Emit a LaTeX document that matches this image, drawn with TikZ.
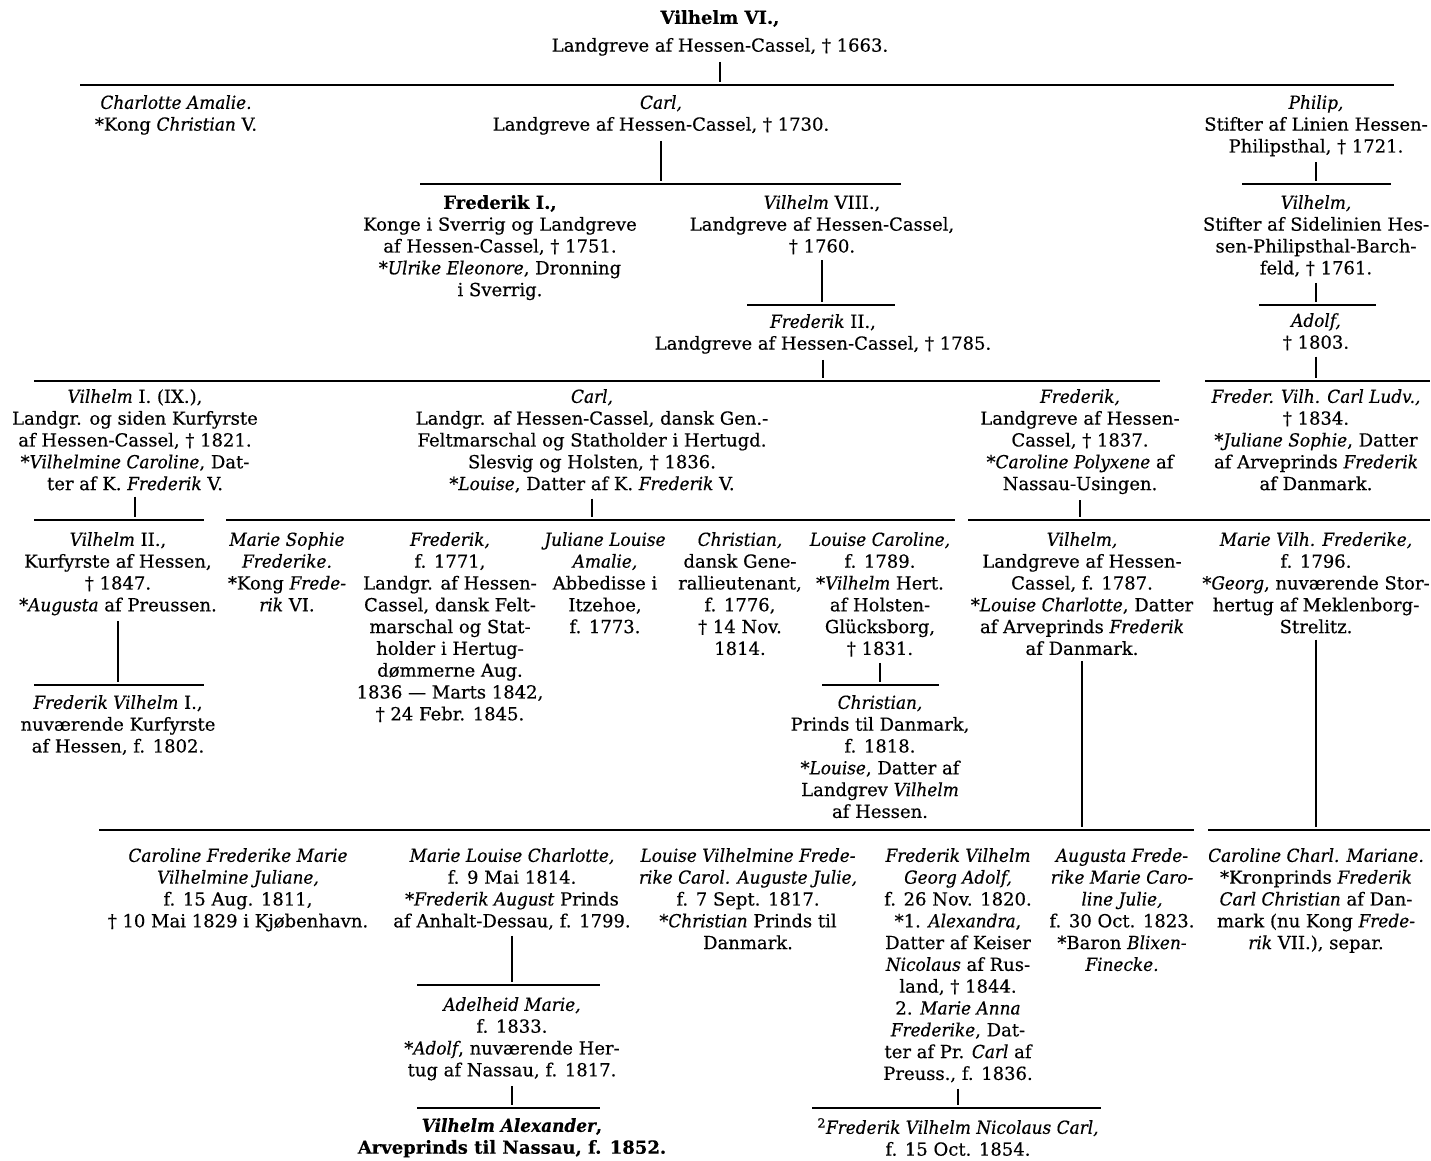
\documentclass[tikz,border=0pt]{standalone}
\usepackage{fontspec}
\setmainfont{DejaVu Serif}[FakeBold=0.4,
  ItalicFeatures={FakeStretch=0.94},BoldItalicFeatures={FakeStretch=0.94}]
\usepackage{tikz}

\begin{document}
\begin{tikzpicture}[x=1pt,y=-1pt,
  person/.style={align=center,anchor=north,inner sep=0pt,
    font={\fontsize{18}{21.8}\selectfont}},
  bar/.style={line width=1.4pt},
  stem/.style={line width=1.1pt,shorten <=6pt,shorten >=3pt}]

    \fill[white] (0,0) rectangle (1431,1160);
    \useasboundingbox (0,0) rectangle (1431,1160);

    \node[person] (vilhelmVI) at (720,10) {\textbf{Vilhelm VI.,}\\[6pt]Landgreve af Hessen-Cassel, † 1663.};

    \node[person] (charlotte) at (176,95) {\textit{Charlotte Amalie.}\\{}*Kong \textit{Christian} V.};
    \node[person] (carl) at (661,95) {\textit{Carl,}\\Landgreve af Hessen-Cassel, † 1730.};
    \node[person] (philip) at (1316,95) {\textit{Philip,}\\Stifter af Linien Hessen-\\Philipsthal, † 1721.};

    \node[person] (frederikI) at (500,195) {\textbf{Frederik I.,}\\Konge i Sverrig og Landgreve\\af Hessen-Cassel, † 1751.\\{}*\textit{Ulrike Eleonore}, Dronning\\i Sverrig.};
    \node[person] (vilhelmVIII) at (822,195) {\textit{Vilhelm} VIII.,\\Landgreve af Hessen-Cassel,\\† 1760.};
    \node[person] (vilhelmP) at (1316,195) {\textit{Vilhelm,}\\Stifter af Sidelinien Hes-\\sen-Philipsthal-Barch-\\feld, † 1761.};

    \node[person] (frederikII) at (823,314) {\textit{Frederik} II.,\\Landgreve af Hessen-Cassel, † 1785.};
    \node[person] (adolfP) at (1316,313) {\textit{Adolf,}\\† 1803.};

    \node[person] (vilhelmI) at (135,389) {\textit{Vilhelm} I. (IX.),\\Landgr. og siden Kurfyrste\\af Hessen-Cassel, † 1821.\\{}*\textit{Vilhelmine Caroline}, Dat-\\ter af K. \textit{Frederik} V.};
    \node[person] (carlS) at (592,389) {\textit{Carl,}\\Landgr. af Hessen-Cassel, dansk Gen.-\\Feltmarschal og Statholder i Hertugd.\\Slesvig og Holsten, † 1836.\\{}*\textit{Louise}, Datter af K. \textit{Frederik} V.};
    \node[person] (frederikL) at (1080,389) {\textit{Frederik,}\\Landgreve af Hessen-\\Cassel, † 1837.\\{}*\textit{Caroline Polyxene} af\\Nassau-Usingen.};
    \node[person] (frederVilh) at (1316,389) {\textit{Freder. Vilh. Carl Ludv.,}\\† 1834.\\{}*\textit{Juliane Sophie}, Datter\\af Arveprinds \textit{Frederik}\\af Danmark.};

    \node[person] (vilhelmII) at (118,532) {\textit{Vilhelm} II.,\\Kurfyrste af Hessen,\\† 1847.\\{}*\textit{Augusta} af Preussen.};
    \node[person] (marieSophie) at (287,532) {\textit{Marie Sophie}\\\textit{Frederike.}\\{}*Kong \textit{Frede-}\\\textit{rik} VI.};
    \node[person] (frederikF) at (450,532) {\textit{Frederik,}\\f. 1771,\\Landgr. af Hessen-\\Cassel, dansk Felt-\\marschal og Stat-\\holder i Hertug-\\dømmerne Aug.\\1836 — Marts 1842,\\† 24 Febr. 1845.};
    \node[person] (juliane) at (605,532) {\textit{Juliane Louise}\\\textit{Amalie,}\\Abbedisse i\\Itzehoe,\\f. 1773.};
    \node[person] (christianG) at (740,532) {\textit{Christian,}\\dansk Gene-\\rallieutenant,\\f. 1776,\\† 14 Nov.\\1814.};
    \node[person] (louiseC) at (880,532) {\textit{Louise Caroline,}\\f. 1789.\\{}*\textit{Vilhelm} Hert.\\af Holsten-\\Glücksborg,\\† 1831.};
    \node[person] (vilhelmL) at (1082,532) {\textit{Vilhelm,}\\Landgreve af Hessen-\\Cassel, f. 1787.\\{}*\textit{Louise Charlotte}, Datter\\af Arveprinds \textit{Frederik}\\af Danmark.};
    \node[person] (marieVilh) at (1316,532) {\textit{Marie Vilh. Frederike,}\\f. 1796.\\{}*\textit{Georg}, nuværende Stor-\\hertug af Meklenborg-\\Strelitz.};

    \node[person] (frederikVilhI) at (118,695) {\textit{Frederik Vilhelm} I.,\\nuværende Kurfyrste\\af Hessen, f. 1802.};
    \node[person] (christianP) at (880,695) {\textit{Christian,}\\Prinds til Danmark,\\f. 1818.\\{}*\textit{Louise}, Datter af\\Landgrev \textit{Vilhelm}\\af Hessen.};

    \node[person] (carolineF) at (238,848) {\textit{Caroline Frederike Marie}\\\textit{Vilhelmine Juliane,}\\f. 15 Aug. 1811,\\† 10 Mai 1829 i Kjøbenhavn.};
    \node[person] (marieLouise) at (512,848) {\textit{Marie Louise Charlotte,}\\f. 9 Mai 1814.\\{}*\textit{Frederik August} Prinds\\af Anhalt-Dessau, f. 1799.};
    \node[person] (louiseVilh) at (748,848) {\textit{Louise Vilhelmine Frede-}\\\textit{rike Carol. Auguste Julie,}\\f. 7 Sept. 1817.\\{}*\textit{Christian} Prinds til\\Danmark.};
    \node[person] (frederikVG) at (958,848) {\textit{Frederik Vilhelm}\\\textit{Georg Adolf,}\\f. 26 Nov. 1820.\\{}*1. \textit{Alexandra},\\Datter af Keiser\\\textit{Nicolaus} af Rus-\\land, † 1844.\\2. \textit{Marie Anna}\\\textit{Frederike}, Dat-\\ter af Pr. \textit{Carl} af\\Preuss., f. 1836.};
    \node[person] (augusta) at (1122,848) {\textit{Augusta Frede-}\\\textit{rike Marie Caro-}\\\textit{line Julie,}\\f. 30 Oct. 1823.\\{}*Baron \textit{Blixen-}\\\textit{Finecke.}};
    \node[person] (carolineCh) at (1316,848) {\textit{Caroline Charl. Mariane.}\\{}*Kronprinds \textit{Frederik}\\\textit{Carl Christian} af Dan-\\mark (nu Kong \textit{Frede-}\\\textit{rik} VII.), separ.};

    \node[person] (adelheid) at (512,997) {\textit{Adelheid Marie,}\\f. 1833.\\{}*\textit{Adolf}, nuværende Her-\\tug af Nassau, f. 1817.};
    \node[person] (vilhelmAlex) at (512,1118) {\textbf{\textit{Vilhelm Alexander},}\\\textbf{Arveprinds til Nassau, f. 1852.}};
    \node[person] (frederikVN) at (958,1118) {\textsuperscript{2}\textit{Frederik Vilhelm Nicolaus Carl,}\\f. 15 Oct. 1854.};

    \coordinate (b0l) at (80,85);    \coordinate (b0r) at (1394,85);
    \coordinate (b1l) at (420,184);  \coordinate (b1r) at (901,184);
    \coordinate (b1pl) at (1242,184); \coordinate (b1pr) at (1391,184);
    \coordinate (b2l) at (747,305);  \coordinate (b2r) at (895,305);
    \coordinate (b2pl) at (1259,305); \coordinate (b2pr) at (1376,305);
    \coordinate (b3l) at (34,381);   \coordinate (b3r) at (1160,381);
    \coordinate (b3pl) at (1205,381); \coordinate (b3pr) at (1430,381);
    \coordinate (b4al) at (34,520);  \coordinate (b4ar) at (204,520);
    \coordinate (b4bl) at (226,520); \coordinate (b4br) at (955,520);
    \coordinate (b4cl) at (968,520); \coordinate (b4cr) at (1430,520);
    \coordinate (b5al) at (34,685);  \coordinate (b5ar) at (204,685);
    \coordinate (b5bl) at (822,685); \coordinate (b5br) at (939,685);
    \coordinate (b6al) at (99,830);  \coordinate (b6ar) at (1194,830);
    \coordinate (b6bl) at (1208,830); \coordinate (b6br) at (1430,830);
    \coordinate (b7l) at (417,985);  \coordinate (b7r) at (600,985);
    \coordinate (b8al) at (417,1108); \coordinate (b8ar) at (600,1108);
    \coordinate (b8bl) at (812,1108); \coordinate (b8br) at (1101,1108);

    \draw[bar] (b0l) -- (b0r);
    \draw[bar] (b1l) -- (b1r);
    \draw[bar] (b1pl) -- (b1pr);
    \draw[bar] (b2l) -- (b2r);
    \draw[bar] (b2pl) -- (b2pr);
    \draw[bar] (b3l) -- (b3r);
    \draw[bar] (b3pl) -- (b3pr);
    \draw[bar] (b4al) -- (b4ar);
    \draw[bar] (b4bl) -- (b4br);
    \draw[bar] (b4cl) -- (b4cr);
    \draw[bar] (b5al) -- (b5ar);
    \draw[bar] (b5bl) -- (b5br);
    \draw[bar] (b6al) -- (b6ar);
    \draw[bar] (b6bl) -- (b6br);
    \draw[bar] (b7l) -- (b7r);
    \draw[bar] (b8al) -- (b8ar);
    \draw[bar] (b8bl) -- (b8br);

    \draw[stem] (vilhelmVI) -- (vilhelmVI |- b0l);
    \draw[stem] (carl) -- (carl |- b1l);
    \draw[stem] (philip) -- (philip |- b1pl);
    \draw[stem] (vilhelmVIII) -- (vilhelmVIII |- b2l);
    \draw[stem] (vilhelmP) -- (vilhelmP |- b2pl);
    \draw[stem] (frederikII) -- (frederikII |- b3l);
    \draw[stem] (adolfP) -- (adolfP |- b3pl);
    \draw[stem] (vilhelmI) -- (vilhelmI |- b4al);
    \draw[stem] (carlS) -- (carlS |- b4bl);
    \draw[stem] (frederikL) -- (frederikL |- b4cl);
    \draw[stem] (vilhelmII) -- (vilhelmII |- b5al);
    \draw[stem] (louiseC) -- (louiseC |- b5bl);
    \draw[stem] (vilhelmL) -- (vilhelmL |- b6al);
    \draw[stem] (marieVilh) -- (marieVilh |- b6bl);
    \draw[stem] (marieLouise) -- (marieLouise |- b7l);
    \draw[stem] (adelheid) -- (adelheid |- b8al);
    \draw[stem] (frederikVG) -- (frederikVG |- b8bl);
\end{tikzpicture}
\end{document}
